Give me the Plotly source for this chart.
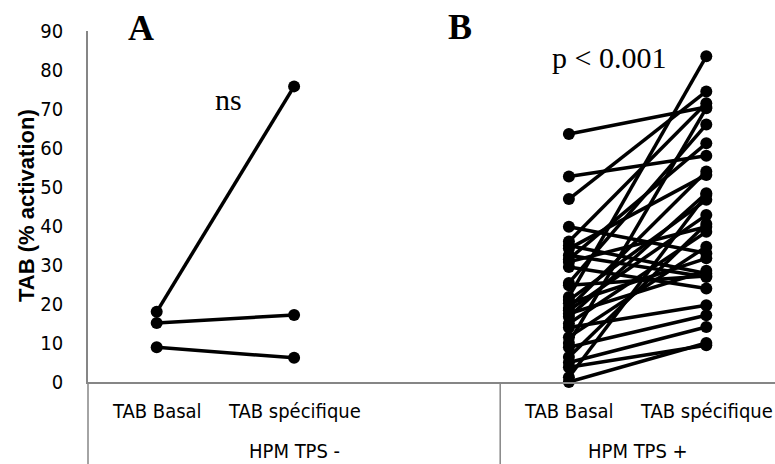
import plotly.graph_objects as go

# ---------------- data ----------------
categories = ["TAB Basal", "TAB spécifique"]
groups = ["HPM TPS -", "HPM TPS +"]

a_basal = [18.0, 15.1, 8.9]
a_specifique = [75.8, 17.2, 6.2]

b_basal = [63.6, 52.7, 46.9, 39.8, 36.0, 35.0, 34.2, 32.5, 31.5, 30.8,
           29.5, 25.4, 24.8, 21.8, 21.0, 20.2, 19.0, 18.4, 17.5, 16.7,
           15.0, 14.0, 11.5, 10.0, 8.9, 6.4, 5.0, 3.8, 1.2, 0.0]
b_specifique = [70.5, 58.0, 74.5, 33.0, 71.5, 27.8, 53.1, 26.9, 61.2, 39.8,
                24.0, 66.0, 27.2, 83.5, 46.7, 31.7, 54.0, 42.8, 28.5, 48.4,
                38.5, 19.7, 34.7, 70.2, 17.1, 40.5, 14.1, 9.4, 48.0, 10.0]

y_ticks = [0, 10, 20, 30, 40, 50, 60, 70, 80, 90]

# ---------------- layout constants ----------------
W, H = 775, 464
ML, MR, MT, MB = 88, 0, 31, 82
PW, PH = W - ML - MR, H - MT - MB
AXIS_GREY = "#868686"
CAT_FONT = "DejaVu Sans Condensed, Liberation Sans Narrow, sans-serif"
SERIF = "Liberation Serif, Times New Roman, serif"

def px_x(p):
    return (p - ML) / PW

def px_y(p):
    return (H - MB - p) / PH

slot = {0: [0, 1], 1: [3, 4]}  # category slot positions for each group

fig = go.Figure()

def add_pairs(basal, spec, g):
    for b, s in zip(basal, spec):
        fig.add_trace(go.Scatter(
            x=slot[g], y=[b, s], mode="lines+markers",
            line=dict(color="black", width=3.5),
            marker=dict(color="black", size=12),
            showlegend=False, hoverinfo="skip", cliponaxis=False))

add_pairs(a_basal, a_specifique, 0)
add_pairs(b_basal, b_specifique, 1)

fig.update_layout(
    width=W, height=H,
    margin=dict(l=ML, r=MR, t=MT, b=MB, pad=0),
    paper_bgcolor="white", plot_bgcolor="white",
    showlegend=False,
    xaxis=dict(range=[-0.5, 4.5], showgrid=False, zeroline=False,
               showticklabels=False, ticks="", showline=True,
               linecolor=AXIS_GREY, linewidth=1.5, fixedrange=True),
    yaxis=dict(range=[0, 90], tickvals=y_ticks, showgrid=False, zeroline=False,
               ticks="", showline=True, linecolor=AXIS_GREY, linewidth=1.5,
               tickfont=dict(family=CAT_FONT, size=20, color="black"),
               ticklabelstandoff=19),
)

# vertical separator lines in the category area
for xp in [0.0, 3 / 5]:
    fig.add_shape(type="line", xref="paper", yref="paper",
                  x0=xp, x1=xp, y0=0, y1=-MB / PH,
                  line=dict(color=AXIS_GREY, width=1.5))

# category labels
for g in range(2):
    for i, c in enumerate(categories):
        fig.add_annotation(text=c, xref="x", yref="paper", x=slot[g][i],
                           y=px_y(411), showarrow=False, xanchor="center",
                           yanchor="middle",
                           font=dict(family=CAT_FONT, size=20, color="black"))
fig.add_annotation(text=groups[0], xref="x", yref="paper", x=1, y=px_y(451),
                   showarrow=False, xanchor="center", yanchor="middle",
                   font=dict(family=CAT_FONT, size=20, color="black"))
fig.add_annotation(text=groups[1], xref="x", yref="paper", x=3.5, y=px_y(451),
                   showarrow=False, xanchor="center", yanchor="middle",
                   font=dict(family=CAT_FONT, size=20, color="black"))

# y axis title
fig.add_annotation(text="<b>TAB (% activation)</b>", xref="paper", yref="paper",
                   x=px_x(26), y=px_y(206), textangle=-90, showarrow=False,
                   xanchor="center", yanchor="middle",
                   font=dict(family="Liberation Sans, Arial, sans-serif",
                             size=22, color="black"))

# panel letters and significance labels
fig.add_annotation(text="<b>A</b>", xref="paper", yref="paper",
                   x=px_x(141), y=px_y(28), showarrow=False,
                   xanchor="center", yanchor="middle",
                   font=dict(family=SERIF, size=36, color="black"))
fig.add_annotation(text="<b>B</b>", xref="paper", yref="paper",
                   x=px_x(460), y=px_y(27), showarrow=False,
                   xanchor="center", yanchor="middle",
                   font=dict(family=SERIF, size=36, color="black"))
fig.add_annotation(text="ns", xref="paper", yref="paper",
                   x=px_x(228), y=px_y(99), showarrow=False,
                   xanchor="center", yanchor="middle",
                   font=dict(family=SERIF, size=30, color="black"))
fig.add_annotation(text="p &lt; 0.001", xref="paper", yref="paper",
                   x=px_x(609), y=px_y(58), showarrow=False,
                   xanchor="center", yanchor="middle",
                   font=dict(family=SERIF, size=30, color="black"))

fig.write_html("out.html")
